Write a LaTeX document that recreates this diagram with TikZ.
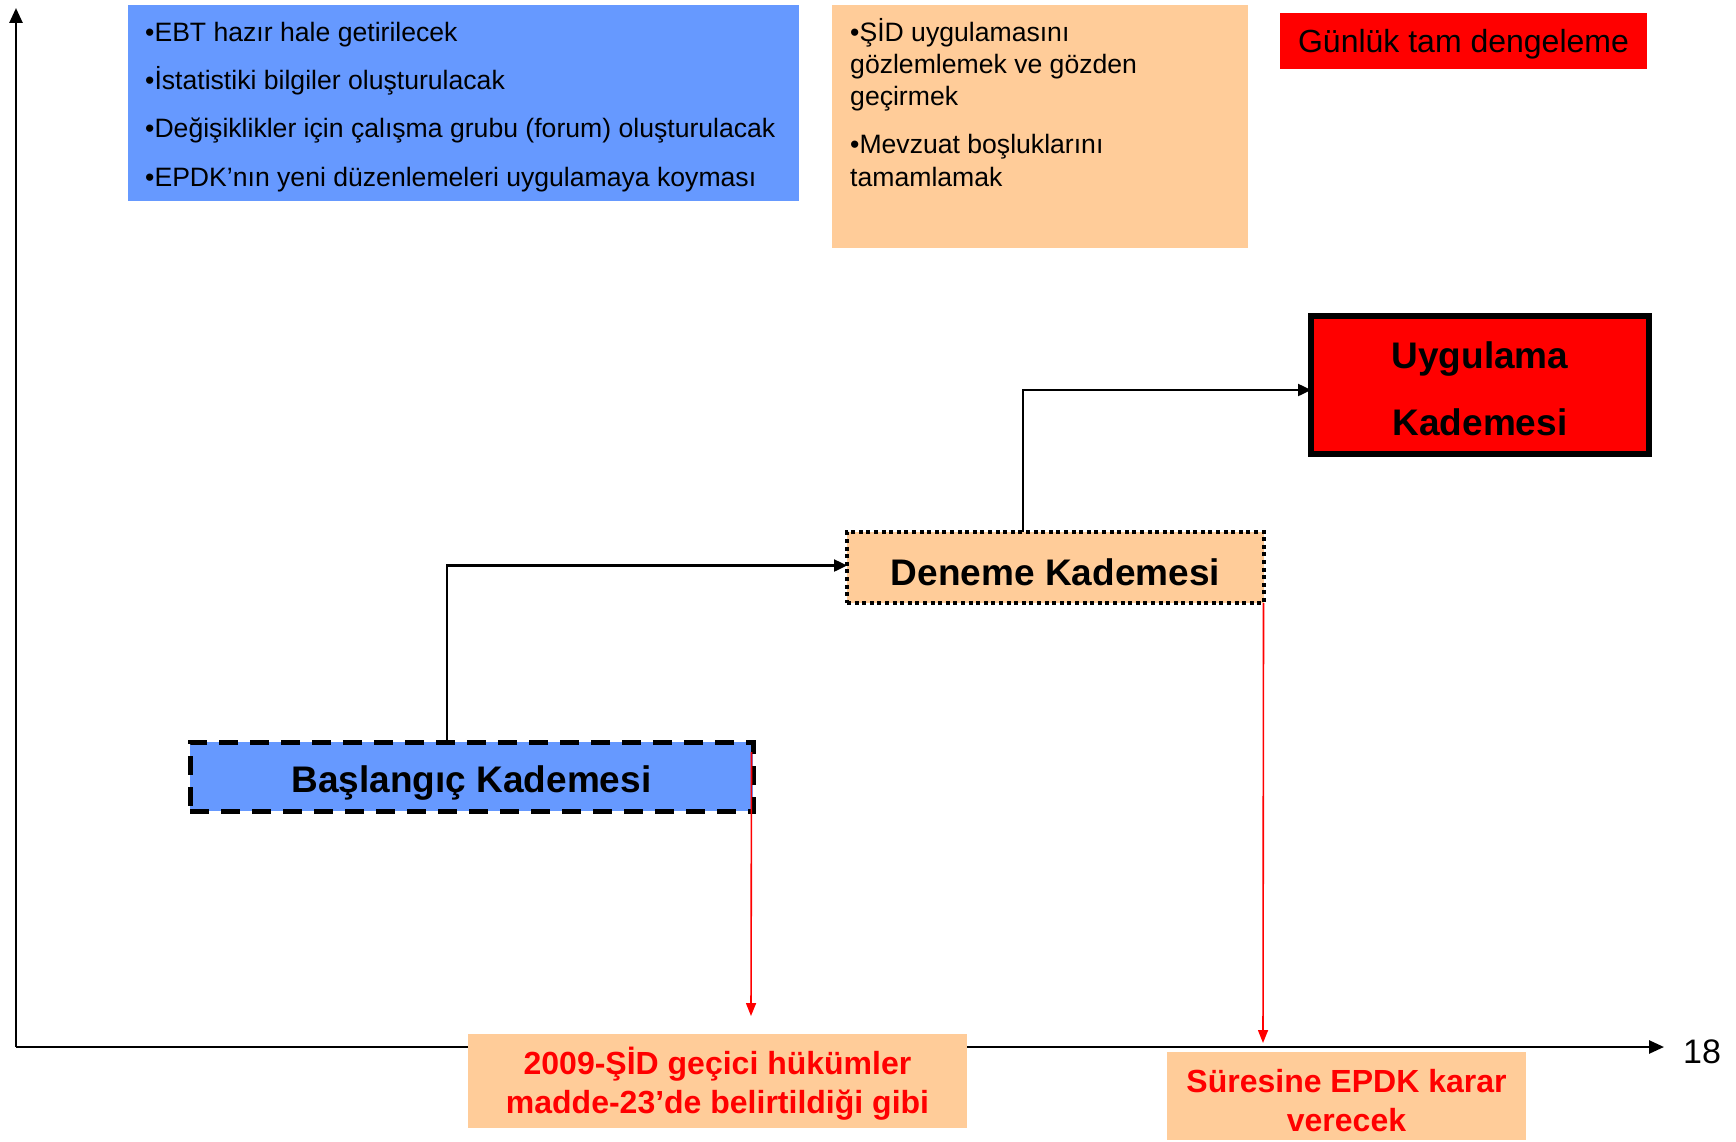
\documentclass[tikz,border=0pt]{standalone}
\usepackage{fontspec}
\setmainfont{Liberation Sans}
\usetikzlibrary{arrows.meta}
\definecolor{myblue}{HTML}{6699FF}
\definecolor{myorange}{HTML}{FFCC99}
\definecolor{myred}{HTML}{FF0000}
\tikzset{
  plainbox/.style={rectangle, inner sep=0pt, outer sep=0pt, draw=none},
  stagebox/.style={rectangle, inner sep=0pt, outer sep=0pt},
  smalltxt/.style={inner sep=0pt, anchor=base west, font=\fontsize{26.6}{30}\selectfont},
  stagetxt/.style={inner sep=0pt, font=\bfseries\fontsize{37}{67}\selectfont, align=center},
  redtxt/.style={inner sep=0pt, text=myred, font=\bfseries\fontsize{32}{39}\selectfont, align=center},
  axisline/.style={line width=2.6pt, -{Triangle[length=15pt,width=13pt]}},
  conn/.style={line width=2.4pt, -{Triangle[length=13pt,width=12pt]}},
  redarrow/.style={draw=myred, line width=1.6pt, -{Triangle[length=13pt,width=10pt]}, myred},
}
\begin{document}
\begin{tikzpicture}[x=1pt,y=-1pt]
\useasboundingbox[fill=white] (0,0) rectangle (1736,1142);

% axes
\coordinate (O) at (16,1047);
\coordinate (ytop) at (16,8);
\coordinate (xend) at (1664,1047);
\draw[axisline] (O) -- (ytop);
\draw[axisline] (O) -- (xend);
\node[font=\fontsize{34}{40}\selectfont, inner sep=0pt] (lab18) at (1702,1052) {18};

% top blue box
\node[plainbox, fill=myblue, minimum width=671pt, minimum height=195pt, anchor=north west] (topblue) at (128,5.5) {};
\node[smalltxt] (tb1) at (145,42) {•EBT hazır hale getirilecek};
\node[smalltxt] (tb2) at (145,90) {•İstatistiki bilgiler oluşturulacak};
\node[smalltxt] (tb3) at (145,138) {•Değişiklikler için çalışma grubu (forum) oluşturulacak};
\node[smalltxt] (tb4) at (145,186) {•EPDK’nın yeni düzenlemeleri uygulamaya koyması};

% top orange box
\node[plainbox, fill=myorange, minimum width=416pt, minimum height=242.5pt, anchor=north west] (toporange) at (832,5.5) {};
\node[smalltxt] (to1) at (850,42) {•ŞİD uygulamasını};
\node[smalltxt] (to2) at (850,74) {gözlemlemek ve gözden};
\node[smalltxt] (to3) at (850,106) {geçirmek};
\node[smalltxt] (to4) at (850,154) {•Mevzuat boşluklarını};
\node[smalltxt] (to5) at (850,186) {tamamlamak};

% top red box
\node[plainbox, fill=myred, minimum width=367pt, minimum height=56pt, anchor=north west] (topred) at (1280,13) {};
\node[inner sep=0pt, font=\fontsize{32}{38}\selectfont] (toprtxt) at ([yshift=-3.3pt]topred.center) {Günlük tam dengeleme};

% stages
\node[stagebox, fill=myred, draw=black, line width=6pt, minimum width=338pt, minimum height=138pt] (uyg) at (1480,385) {};
\node[stagetxt] (uygtxt) at ([yshift=-3.3pt]uyg.center) {Uygulama\\Kademesi};
\node[stagebox, fill=myorange, draw=black, line width=4pt, dash pattern=on 4pt off 3.6pt, minimum width=417pt, minimum height=71pt] (den) at (1055.5,567.5) {};
\node[stagetxt] (dentxt) at ([yshift=-4.4pt]den.center) {Deneme Kademesi};
\node[stagebox, fill=myblue, draw=black, line width=5pt, dash pattern=on 19pt off 12pt, minimum width=563pt, minimum height=69pt] (bas) at (471.5,776.5) {};
\node[stagetxt] (bastxt) at ([yshift=-6.6pt]bas.center) {Başlangıç Kademesi};

% connectors
\draw[conn] ([xshift=-24.5pt]bas.north) |- ([yshift=2pt]den.west);
\draw[conn] ([xshift=-32.5pt]den.north) |- ([yshift=-5pt]uyg.west);

% red arrows
\coordinate (r1end) at (751,1016);
\coordinate (r2end) at (1263,1043);
\draw[redarrow] ([xshift=-1.5pt,yshift=-10pt]bas.north east) -- (r1end);
\draw[redarrow] ([xshift=-0.5pt]den.south east) -- (r2end);

% bottom boxes
\node[plainbox, fill=myorange, minimum width=499pt, minimum height=94pt] (bot1) at (717.5,1081) {};
\node[redtxt] (bot1txt) at ([yshift=-2.2pt]bot1.center) {2009-ŞİD geçici hükümler\\madde-23’de belirtildiği gibi};
\node[plainbox, fill=myorange, minimum width=359pt, minimum height=88pt] (bot2) at (1346.5,1096) {};
\node[redtxt] (bot2txt) at ([yshift=-4.4pt]bot2.center) {Süresine EPDK karar\\verecek};
\end{tikzpicture}
\end{document}
